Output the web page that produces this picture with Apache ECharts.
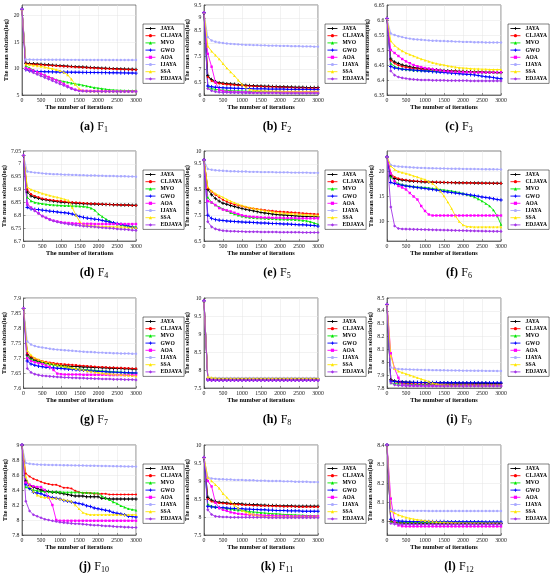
<!DOCTYPE html>
<html><head><meta charset="utf-8">
<script src="https://cdn.jsdelivr.net/npm/echarts@6/dist/echarts.min.js"></script>
<style>html,body{margin:0;padding:0;background:#fff}#c{width:550px;height:579px}</style>
</head><body><div id="c"></div>
<script>
const ITER = [0,100,200,300,400,500,600,700,800,900,1000,1100,1200,1300,1400,1500,1600,1700,1800,1900,2000,2100,2200,2300,2400,2500,2600,2700,2800,2900,3000];
const NAMES = ['JAYA','CLJAYA','MVO','GWO','AOA','IJAYA','SSA','EDJAYA'];

const F1_JAYA = [21.2,11.0,10.95,10.9,10.85,10.8,10.75,10.7,10.65,10.6,10.55,10.5,10.45,10.4,10.36,10.32,10.28,10.24,10.2,10.16,10.12,10.08,10.05,10.02,9.99,9.96,9.93,9.9,9.88,9.86,9.84];
const F1_CLJAYA = [21.2,10.9,10.85,10.8,10.75,10.7,10.65,10.6,10.55,10.5,10.45,10.4,10.36,10.32,10.28,10.24,10.2,10.16,10.12,10.08,10.04,10.0,9.97,9.94,9.91,9.88,9.85,9.82,9.8,9.78,9.76];
const F1_MVO = [21.2,10.5,10.1,9.7,9.3,9.0,8.7,8.4,8.15,7.9,7.7,7.55,7.4,7.25,7.1,7.0,6.85,6.7,6.55,6.4,6.3,6.2,6.1,6.0,5.95,5.9,5.88,5.86,5.85,5.84,5.83];
const F1_GWO = [21.2,9.8,9.6,9.5,9.45,9.42,9.4,9.38,9.36,9.35,9.34,9.33,9.32,9.31,9.3,9.29,9.28,9.27,9.26,9.25,9.24,9.23,9.22,9.21,9.2,9.19,9.18,9.17,9.16,9.15,9.14];
const F1_AOA = [21.2,10.1,9.9,9.6,9.3,9.0,8.7,8.4,8.1,7.8,7.5,7.1,6.7,6.3,6.0,5.85,5.8,5.78,5.76,5.75,5.74,5.73,5.72,5.72,5.71,5.71,5.7,5.7,5.7,5.7,5.7];
const F1_IJAYA = [21.2,11.7,11.7,11.68,11.68,11.67,11.67,11.66,11.66,11.65,11.65,11.65,11.64,11.64,11.64,11.63,11.63,11.63,11.62,11.62,11.62,11.62,11.61,11.61,11.61,11.61,11.6,11.6,11.6,11.6,11.6];
const F1_SSA = [21.2,10.8,10.7,10.6,10.5,10.4,10.25,10.1,9.95,9.8,9.6,9.3,8.8,8.0,7.0,6.2,5.8,5.75,5.74,5.73,5.72,5.72,5.71,5.71,5.7,5.7,5.7,5.7,5.7,5.7,5.7];
const F1_EDJAYA = [21.2,9.8,9.5,9.2,8.9,8.6,8.3,8.0,7.7,7.4,7.1,6.8,6.5,6.2,5.95,5.8,5.72,5.7,5.68,5.67,5.66,5.65,5.65,5.64,5.64,5.63,5.63,5.62,5.62,5.62,5.62];

const F2_JAYA = [9.2,6.75,6.6,6.52,6.48,6.46,6.44,6.43,6.42,6.4,6.39,6.38,6.37,6.36,6.35,6.35,6.34,6.34,6.33,6.33,6.32,6.32,6.31,6.31,6.3,6.3,6.3,6.29,6.29,6.29,6.29];
const F2_CLJAYA = [9.2,6.7,6.55,6.48,6.45,6.43,6.41,6.4,6.39,6.38,6.37,6.36,6.35,6.34,6.33,6.33,6.32,6.32,6.31,6.31,6.3,6.3,6.29,6.29,6.28,6.28,6.28,6.27,6.27,6.27,6.27];
const F2_MVO = [9.2,6.3,6.25,6.22,6.2,6.19,6.18,6.17,6.16,6.16,6.15,6.15,6.14,6.14,6.14,6.13,6.13,6.13,6.13,6.12,6.12,6.12,6.12,6.12,6.12,6.11,6.11,6.11,6.11,6.11,6.11];
const F2_GWO = [9.2,6.35,6.32,6.3,6.29,6.28,6.27,6.27,6.26,6.26,6.25,6.25,6.25,6.24,6.24,6.24,6.24,6.23,6.23,6.23,6.23,6.23,6.22,6.22,6.22,6.22,6.22,6.22,6.21,6.21,6.21];
const F2_AOA = [9.2,7.6,7.1,6.5,6.2,6.15,6.13,6.12,6.12,6.11,6.11,6.11,6.1,6.1,6.1,6.1,6.1,6.1,6.1,6.1,6.1,6.1,6.1,6.1,6.1,6.1,6.1,6.1,6.1,6.1,6.1];
const F2_IJAYA = [9.2,8.25,8.12,8.07,8.04,8.02,8.0,7.99,7.98,7.97,7.96,7.95,7.95,7.94,7.94,7.93,7.93,7.92,7.92,7.92,7.91,7.91,7.91,7.9,7.9,7.9,7.89,7.89,7.89,7.88,7.88];
const F2_SSA = [9.2,7.9,7.7,7.55,7.4,7.22,7.05,6.9,6.75,6.58,6.42,6.3,6.22,6.18,6.17,6.16,6.16,6.15,6.15,6.15,6.15,6.14,6.14,6.14,6.14,6.14,6.14,6.14,6.14,6.14,6.14];
const F2_EDJAYA = [9.2,6.25,6.17,6.13,6.11,6.1,6.1,6.09,6.09,6.09,6.09,6.08,6.08,6.08,6.08,6.08,6.08,6.08,6.08,6.08,6.08,6.07,6.07,6.07,6.07,6.07,6.07,6.07,6.07,6.07,6.07];

const F3_JAYA = [6.605,6.47,6.46,6.455,6.45,6.447,6.444,6.442,6.44,6.438,6.437,6.436,6.435,6.434,6.433,6.432,6.431,6.43,6.43,6.429,6.429,6.428,6.428,6.427,6.427,6.427,6.426,6.426,6.426,6.425,6.425];
const F3_CLJAYA = [6.605,6.465,6.455,6.449,6.445,6.442,6.44,6.438,6.437,6.436,6.435,6.434,6.433,6.432,6.431,6.43,6.43,6.429,6.429,6.428,6.428,6.427,6.427,6.426,6.426,6.426,6.425,6.425,6.425,6.424,6.424];
const F3_MVO = [6.605,6.455,6.445,6.44,6.437,6.435,6.434,6.433,6.432,6.432,6.431,6.431,6.43,6.43,6.429,6.429,6.428,6.428,6.428,6.427,6.427,6.427,6.426,6.426,6.426,6.425,6.425,6.425,6.425,6.424,6.424];
const F3_GWO = [6.605,6.445,6.44,6.438,6.436,6.435,6.434,6.433,6.432,6.431,6.43,6.429,6.428,6.427,6.426,6.425,6.424,6.423,6.422,6.421,6.42,6.419,6.418,6.417,6.415,6.413,6.411,6.41,6.408,6.406,6.404];
const F3_AOA = [6.605,6.5,6.49,6.48,6.47,6.462,6.456,6.45,6.446,6.443,6.44,6.438,6.436,6.434,6.432,6.43,6.429,6.428,6.427,6.427,6.426,6.426,6.426,6.425,6.425,6.425,6.425,6.425,6.425,6.425,6.425];
const F3_IJAYA = [6.605,6.555,6.55,6.546,6.543,6.54,6.538,6.536,6.535,6.534,6.533,6.532,6.531,6.531,6.53,6.53,6.529,6.529,6.528,6.528,6.527,6.527,6.527,6.526,6.526,6.526,6.525,6.525,6.525,6.525,6.525];
const F3_SSA = [6.605,6.53,6.515,6.505,6.497,6.49,6.485,6.48,6.475,6.47,6.466,6.462,6.458,6.455,6.452,6.45,6.447,6.445,6.443,6.441,6.44,6.439,6.438,6.437,6.437,6.436,6.436,6.435,6.435,6.435,6.435];
const F3_EDJAYA = [6.605,6.43,6.416,6.41,6.407,6.405,6.403,6.402,6.401,6.4,6.4,6.4,6.399,6.399,6.399,6.399,6.398,6.398,6.398,6.398,6.398,6.398,6.397,6.397,6.397,6.397,6.397,6.397,6.397,6.397,6.397];

const F4_JAYA = [7.032,6.89,6.875,6.87,6.866,6.862,6.86,6.857,6.855,6.853,6.851,6.85,6.849,6.848,6.847,6.846,6.845,6.845,6.844,6.844,6.843,6.843,6.842,6.842,6.841,6.841,6.84,6.84,6.84,6.839,6.839];
const F4_CLJAYA = [7.032,6.9,6.882,6.875,6.87,6.865,6.862,6.86,6.858,6.856,6.855,6.853,6.851,6.85,6.849,6.848,6.847,6.846,6.845,6.845,6.844,6.843,6.843,6.842,6.841,6.841,6.84,6.84,6.839,6.838,6.838];
const F4_MVO = [7.032,6.87,6.856,6.85,6.847,6.845,6.843,6.841,6.84,6.839,6.838,6.837,6.837,6.836,6.836,6.835,6.834,6.832,6.828,6.82,6.805,6.795,6.785,6.777,6.77,6.765,6.762,6.76,6.758,6.756,6.755];
const F4_GWO = [7.032,6.83,6.825,6.823,6.822,6.82,6.818,6.816,6.815,6.813,6.811,6.81,6.808,6.805,6.8,6.795,6.792,6.789,6.787,6.785,6.783,6.78,6.777,6.774,6.771,6.768,6.765,6.762,6.758,6.754,6.75];
const F4_AOA = [7.032,6.845,6.83,6.82,6.808,6.797,6.79,6.784,6.779,6.776,6.773,6.771,6.77,6.769,6.768,6.768,6.767,6.767,6.767,6.766,6.766,6.766,6.766,6.766,6.766,6.766,6.766,6.766,6.766,6.766,6.766];
const F4_IJAYA = [7.032,6.97,6.968,6.966,6.965,6.963,6.962,6.961,6.96,6.96,6.959,6.958,6.958,6.957,6.957,6.956,6.956,6.955,6.955,6.955,6.954,6.954,6.953,6.953,6.953,6.952,6.952,6.952,6.951,6.951,6.95];
const F4_SSA = [7.032,6.91,6.9,6.895,6.89,6.885,6.881,6.877,6.873,6.87,6.866,6.862,6.858,6.83,6.8,6.775,6.762,6.76,6.759,6.758,6.757,6.757,6.756,6.756,6.755,6.755,6.754,6.754,6.753,6.753,6.752];
const F4_EDJAYA = [7.032,6.84,6.828,6.817,6.807,6.797,6.79,6.783,6.778,6.774,6.771,6.768,6.766,6.764,6.762,6.76,6.758,6.757,6.756,6.755,6.753,6.752,6.751,6.75,6.749,6.747,6.746,6.745,6.744,6.742,6.741];

const F5_JAYA = [9.65,8.5,8.3,8.15,8.05,7.97,7.93,7.88,7.84,7.8,7.76,7.73,7.7,7.67,7.64,7.61,7.59,7.57,7.55,7.53,7.52,7.51,7.5,7.49,7.48,7.47,7.46,7.46,7.45,7.45,7.44];
const F5_CLJAYA = [9.65,8.55,8.42,8.3,8.2,8.1,8.03,7.97,7.92,7.88,7.85,7.81,7.78,7.76,7.74,7.72,7.7,7.68,7.67,7.65,7.64,7.63,7.62,7.61,7.6,7.59,7.58,7.57,7.56,7.55,7.54];
const F5_MVO = [9.65,8.2,8.0,7.9,7.82,7.75,7.68,7.6,7.55,7.5,7.46,7.44,7.42,7.41,7.4,7.39,7.38,7.37,7.37,7.36,7.35,7.35,7.34,7.34,7.33,7.32,7.3,7.28,7.25,7.2,7.15];
const F5_GWO = [9.65,7.5,7.38,7.33,7.31,7.3,7.28,7.27,7.26,7.25,7.24,7.23,7.23,7.22,7.21,7.2,7.2,7.19,7.18,7.18,7.17,7.16,7.16,7.15,7.14,7.13,7.13,7.12,7.11,7.1,7.08];
const F5_AOA = [9.65,8.05,8.0,7.9,7.78,7.72,7.69,7.65,7.6,7.55,7.5,7.47,7.45,7.44,7.43,7.42,7.41,7.41,7.4,7.4,7.4,7.39,7.39,7.39,7.39,7.38,7.38,7.38,7.38,7.38,7.38];
const F5_IJAYA = [9.65,9.3,9.27,9.25,9.24,9.23,9.22,9.21,9.21,9.2,9.2,9.2,9.19,9.19,9.19,9.18,9.18,9.18,9.18,9.17,9.17,9.17,9.17,9.16,9.16,9.16,9.16,9.16,9.15,9.15,9.15];
const F5_SSA = [9.65,8.6,8.45,8.35,8.27,8.2,8.12,8.05,7.99,7.93,7.88,7.84,7.8,7.77,7.74,7.71,7.68,7.66,7.63,7.61,7.59,7.58,7.57,7.56,7.55,7.54,7.53,7.52,7.51,7.5,7.5];
const F5_EDJAYA = [9.65,7.25,7.05,6.97,6.93,6.9,6.89,6.88,6.88,6.87,6.87,6.86,6.86,6.86,6.86,6.85,6.85,6.85,6.85,6.85,6.84,6.84,6.84,6.84,6.84,6.84,6.83,6.83,6.83,6.83,6.83];

const F6_JAYA = [22.8,19.0,18.5,18.3,18.2,18.1,18.0,17.95,17.9,17.85,17.8,17.78,17.76,17.74,17.72,17.7,17.68,17.67,17.66,17.65,17.64,17.63,17.62,17.61,17.6,17.59,17.58,17.57,17.56,17.55,17.54];
const F6_CLJAYA = [22.8,19.5,18.8,18.5,18.3,18.2,18.1,18.0,17.95,17.9,17.85,17.8,17.78,17.76,17.74,17.72,17.7,17.68,17.66,17.65,17.63,17.62,17.61,17.6,17.58,17.57,17.56,17.55,17.54,17.53,17.52];
const F6_MVO = [22.8,18.8,18.0,17.5,17.3,17.1,17.0,16.9,16.8,16.75,16.7,16.6,16.5,16.4,16.3,16.2,16.1,16.0,15.85,15.7,15.5,15.3,15.1,14.8,14.4,14.0,13.5,13.0,12.2,11.0,9.3];
const F6_GWO = [22.8,17.7,17.5,17.3,17.15,17.0,16.9,16.8,16.7,16.6,16.5,16.4,16.3,16.2,16.05,15.9,15.8,15.7,15.6,15.5,15.4,15.3,15.2,15.1,14.95,14.8,14.7,14.6,14.45,14.3,14.2];
const F6_AOA = [22.8,19.5,18.0,17.0,16.7,16.3,15.6,14.9,14.3,13.0,12.0,11.3,11.1,11.1,11.1,11.1,11.1,11.1,11.1,11.1,11.1,11.1,11.1,11.1,11.1,11.1,11.1,11.1,11.1,11.1,11.1];
const F6_IJAYA = [22.8,21.2,21.0,20.9,20.85,20.8,20.75,20.7,20.65,20.62,20.6,20.57,20.55,20.53,20.51,20.5,20.48,20.46,20.45,20.44,20.42,20.41,20.4,20.39,20.38,20.37,20.36,20.35,20.34,20.33,20.32];
const F6_SSA = [22.8,21.0,20.3,19.9,19.7,19.5,19.3,19.0,18.8,18.5,18.3,17.9,17.5,16.8,16.0,15.0,13.8,12.5,11.0,9.9,9.2,8.9,8.85,8.8,8.8,8.8,8.8,8.8,8.8,8.8,8.8];
const F6_EDJAYA = [22.8,12.8,9.0,8.5,8.4,8.38,8.36,8.34,8.32,8.3,8.28,8.26,8.24,8.22,8.2,8.18,8.16,8.14,8.12,8.1,8.08,8.06,8.04,8.02,8.0,7.98,7.96,7.95,7.94,7.93,7.92];

const F7_JAYA = [7.865,7.71,7.7,7.693,7.689,7.685,7.683,7.681,7.679,7.677,7.675,7.674,7.673,7.672,7.672,7.671,7.67,7.67,7.669,7.668,7.668,7.667,7.667,7.666,7.666,7.665,7.665,7.664,7.664,7.663,7.663];
const F7_CLJAYA = [7.865,7.715,7.705,7.698,7.693,7.69,7.687,7.685,7.683,7.681,7.68,7.679,7.678,7.677,7.676,7.675,7.674,7.673,7.672,7.671,7.67,7.67,7.669,7.668,7.668,7.667,7.667,7.666,7.666,7.665,7.665];
const F7_MVO = [7.865,7.705,7.695,7.69,7.687,7.685,7.682,7.679,7.677,7.675,7.672,7.67,7.668,7.666,7.664,7.663,7.662,7.661,7.66,7.659,7.658,7.657,7.656,7.655,7.654,7.654,7.653,7.652,7.651,7.651,7.65];
const F7_GWO = [7.865,7.69,7.68,7.676,7.673,7.671,7.669,7.668,7.667,7.666,7.665,7.664,7.663,7.662,7.661,7.66,7.659,7.658,7.657,7.656,7.655,7.655,7.654,7.653,7.653,7.652,7.652,7.651,7.651,7.65,7.65];
const F7_AOA = [7.865,7.7,7.69,7.686,7.683,7.68,7.675,7.67,7.66,7.648,7.646,7.645,7.645,7.645,7.645,7.645,7.644,7.644,7.644,7.644,7.644,7.644,7.644,7.643,7.643,7.643,7.643,7.643,7.643,7.643,7.643];
const F7_IJAYA = [7.865,7.755,7.745,7.74,7.737,7.735,7.733,7.731,7.729,7.728,7.727,7.726,7.725,7.724,7.723,7.722,7.721,7.72,7.72,7.719,7.718,7.718,7.717,7.717,7.716,7.716,7.715,7.715,7.715,7.714,7.714];
const F7_SSA = [7.865,7.725,7.71,7.7,7.695,7.69,7.686,7.683,7.68,7.677,7.675,7.672,7.67,7.667,7.664,7.662,7.66,7.657,7.655,7.653,7.651,7.649,7.648,7.647,7.646,7.645,7.644,7.643,7.642,7.641,7.64];
const F7_EDJAYA = [7.865,7.665,7.652,7.646,7.643,7.641,7.64,7.639,7.638,7.637,7.636,7.635,7.635,7.634,7.634,7.633,7.633,7.632,7.632,7.631,7.631,7.63,7.63,7.63,7.629,7.629,7.629,7.628,7.628,7.628,7.627];

const F8_JAYA = [9.92,7.76,7.75,7.75,7.75,7.75,7.75,7.75,7.75,7.75,7.75,7.75,7.75,7.75,7.75,7.75,7.75,7.75,7.75,7.75,7.75,7.75,7.75,7.75,7.75,7.75,7.75,7.75,7.75,7.75,7.75];
const F8_CLJAYA = [9.92,7.755,7.745,7.745,7.745,7.745,7.745,7.745,7.745,7.745,7.745,7.745,7.745,7.745,7.745,7.745,7.745,7.745,7.745,7.745,7.745,7.745,7.745,7.745,7.745,7.745,7.745,7.745,7.745,7.745,7.745];
const F8_MVO = [9.92,7.75,7.74,7.74,7.74,7.74,7.74,7.74,7.74,7.74,7.74,7.74,7.74,7.74,7.74,7.74,7.74,7.74,7.74,7.74,7.74,7.74,7.74,7.74,7.74,7.74,7.74,7.74,7.74,7.74,7.74];
const F8_GWO = [9.92,7.73,7.72,7.72,7.72,7.72,7.72,7.72,7.72,7.72,7.72,7.72,7.72,7.72,7.72,7.72,7.72,7.72,7.72,7.72,7.72,7.72,7.72,7.72,7.72,7.72,7.72,7.72,7.72,7.72,7.72];
const F8_AOA = [9.92,7.74,7.72,7.72,7.72,7.72,7.72,7.72,7.72,7.72,7.72,7.72,7.72,7.72,7.72,7.72,7.72,7.72,7.72,7.72,7.72,7.72,7.72,7.72,7.72,7.72,7.72,7.72,7.72,7.72,7.72];
const F8_IJAYA = [9.92,7.79,7.78,7.78,7.78,7.78,7.78,7.78,7.78,7.78,7.78,7.78,7.78,7.78,7.78,7.78,7.78,7.78,7.78,7.78,7.78,7.78,7.78,7.78,7.78,7.78,7.78,7.78,7.78,7.78,7.78];
const F8_SSA = [9.92,7.81,7.79,7.78,7.77,7.77,7.77,7.77,7.77,7.77,7.77,7.77,7.77,7.77,7.77,7.77,7.77,7.77,7.77,7.77,7.77,7.77,7.77,7.77,7.77,7.77,7.77,7.77,7.77,7.77,7.77];
const F8_EDJAYA = [9.92,7.71,7.71,7.71,7.71,7.71,7.71,7.71,7.71,7.71,7.71,7.71,7.71,7.71,7.71,7.71,7.71,7.71,7.71,7.71,7.71,7.71,7.71,7.71,7.71,7.71,7.71,7.71,7.71,7.71,7.71];

const F9_JAYA = [8.45,7.865,7.855,7.85,7.848,7.846,7.845,7.844,7.843,7.842,7.842,7.841,7.841,7.84,7.84,7.84,7.839,7.839,7.839,7.838,7.838,7.838,7.838,7.837,7.837,7.837,7.837,7.836,7.836,7.836,7.836];
const F9_CLJAYA = [8.45,7.86,7.85,7.842,7.838,7.835,7.833,7.832,7.831,7.83,7.83,7.829,7.829,7.828,7.828,7.828,7.827,7.827,7.827,7.827,7.826,7.826,7.826,7.826,7.826,7.825,7.825,7.825,7.825,7.825,7.825];
const F9_MVO = [8.45,7.84,7.835,7.832,7.83,7.829,7.828,7.828,7.827,7.827,7.827,7.826,7.826,7.826,7.826,7.825,7.825,7.825,7.825,7.825,7.825,7.824,7.824,7.824,7.824,7.824,7.824,7.824,7.824,7.824,7.824];
const F9_GWO = [8.45,7.855,7.85,7.848,7.846,7.845,7.844,7.844,7.843,7.843,7.842,7.842,7.842,7.842,7.841,7.841,7.841,7.841,7.841,7.84,7.84,7.84,7.84,7.84,7.84,7.84,7.84,7.84,7.84,7.84,7.84];
const F9_AOA = [8.45,8.07,7.95,7.88,7.825,7.82,7.819,7.819,7.818,7.818,7.818,7.818,7.818,7.818,7.818,7.818,7.818,7.818,7.818,7.818,7.818,7.818,7.818,7.818,7.818,7.818,7.818,7.818,7.818,7.818,7.818];
const F9_IJAYA = [8.45,7.96,7.95,7.948,7.946,7.945,7.944,7.943,7.942,7.941,7.94,7.94,7.939,7.939,7.938,7.938,7.937,7.937,7.936,7.936,7.935,7.935,7.935,7.934,7.934,7.934,7.933,7.933,7.933,7.932,7.932];
const F9_SSA = [8.45,8.05,7.95,7.93,7.92,7.91,7.9,7.89,7.88,7.87,7.86,7.85,7.84,7.832,7.825,7.822,7.821,7.82,7.82,7.82,7.82,7.82,7.82,7.82,7.82,7.82,7.82,7.82,7.82,7.82,7.82];
const F9_EDJAYA = [8.45,7.84,7.825,7.82,7.818,7.817,7.817,7.816,7.816,7.816,7.816,7.815,7.815,7.815,7.815,7.815,7.815,7.815,7.815,7.815,7.815,7.815,7.815,7.815,7.815,7.815,7.815,7.815,7.815,7.815,7.815];

const F10_JAYA = [9.0,8.52,8.46,8.44,8.42,8.4,8.39,8.38,8.37,8.37,8.36,8.35,8.34,8.33,8.32,8.32,8.32,8.31,8.31,8.31,8.31,8.29,8.29,8.28,8.28,8.28,8.28,8.28,8.28,8.28,8.28];
const F10_CLJAYA = [9.0,8.62,8.58,8.55,8.53,8.51,8.49,8.48,8.47,8.47,8.45,8.43,8.43,8.42,8.39,8.37,8.36,8.36,8.36,8.35,8.35,8.35,8.35,8.34,8.34,8.34,8.34,8.34,8.34,8.34,8.34];
const F10_MVO = [9.0,8.44,8.42,8.4,8.39,8.38,8.38,8.38,8.375,8.375,8.375,8.37,8.37,8.37,8.37,8.37,8.365,8.365,8.36,8.36,8.36,8.32,8.29,8.27,8.24,8.22,8.19,8.17,8.15,8.14,8.13];
const F10_GWO = [9.0,8.48,8.42,8.37,8.36,8.35,8.33,8.31,8.3,8.29,8.28,8.26,8.25,8.24,8.23,8.22,8.21,8.19,8.18,8.16,8.15,8.14,8.13,8.12,8.1,8.09,8.08,8.07,8.05,8.045,8.04];
const F10_AOA = [9.0,8.5,8.47,8.45,8.44,8.44,8.4,8.3,8.2,8.0,7.99,7.99,7.99,7.99,7.99,7.99,7.99,7.99,7.99,7.99,7.99,7.99,7.99,7.99,7.99,7.99,7.99,7.99,7.99,7.99,7.99];
const F10_IJAYA = [9.0,8.76,8.75,8.745,8.74,8.738,8.736,8.735,8.734,8.733,8.732,8.731,8.73,8.729,8.728,8.727,8.726,8.725,8.724,8.723,8.722,8.721,8.72,8.719,8.718,8.717,8.716,8.715,8.714,8.713,8.712];
const F10_SSA = [9.0,8.58,8.45,8.38,8.33,8.31,8.3,8.3,8.29,8.29,8.28,8.27,8.26,8.25,8.2,8.15,8.1,8.08,8.07,8.07,8.07,8.07,8.07,8.07,8.07,8.07,8.07,8.07,8.07,8.07,8.07];
const F10_EDJAYA = [9.0,8.25,8.12,8.07,8.05,8.03,8.01,8.0,7.99,7.98,7.97,7.965,7.96,7.955,7.95,7.95,7.945,7.94,7.935,7.93,7.93,7.925,7.92,7.92,7.915,7.91,7.91,7.905,7.905,7.9,7.9];

const F11_JAYA = [9.65,8.55,8.47,8.43,8.41,8.4,8.39,8.38,8.37,8.37,8.36,8.35,8.35,8.34,8.34,8.33,8.33,8.32,8.32,8.32,8.31,8.31,8.31,8.31,8.3,8.3,8.3,8.3,8.3,8.3,8.3];
const F11_CLJAYA = [9.65,8.5,8.43,8.4,8.39,8.38,8.37,8.36,8.35,8.35,8.34,8.33,8.33,8.32,8.32,8.31,8.31,8.31,8.3,8.3,8.3,8.29,8.29,8.29,8.29,8.28,8.28,8.28,8.28,8.28,8.28];
const F11_MVO = [9.65,8.35,8.3,8.28,8.26,8.25,8.23,8.22,8.2,8.19,8.18,8.17,8.15,8.14,8.13,8.12,8.11,8.1,8.09,8.09,8.08,8.07,8.07,8.06,8.06,8.05,8.05,8.04,8.04,8.03,8.03];
const F11_GWO = [9.65,8.3,8.28,8.27,8.26,8.26,8.25,8.24,8.24,8.23,8.23,8.22,8.22,8.21,8.21,8.2,8.2,8.19,8.19,8.18,8.18,8.18,8.17,8.17,8.17,8.17,8.16,8.16,8.16,8.16,8.16];
const F11_AOA = [9.65,9.0,8.85,8.4,8.25,8.2,8.17,8.13,8.11,8.09,8.08,8.07,8.06,8.06,8.05,8.05,8.04,8.04,8.04,8.03,8.03,8.03,8.03,8.02,8.02,8.02,8.02,8.02,8.02,8.02,8.02];
const F11_IJAYA = [9.65,9.1,9.07,9.06,9.05,9.05,9.04,9.04,9.03,9.03,9.03,9.02,9.02,9.02,9.01,9.01,9.01,9.0,9.0,9.0,9.0,8.99,8.99,8.99,8.98,8.98,8.98,8.98,8.97,8.97,8.97];
const F11_SSA = [9.65,9.1,9.0,8.9,8.8,8.65,8.55,8.43,8.33,8.25,8.18,8.14,8.1,8.07,8.04,8.02,8.01,8.0,8.0,8.0,8.0,8.0,8.0,8.0,8.0,8.0,8.0,8.0,8.0,8.0,8.0];
const F11_EDJAYA = [9.65,8.2,8.07,8.02,8.01,8.0,8.0,7.99,7.99,7.99,7.99,7.99,7.99,7.99,7.99,7.99,7.99,7.98,7.98,7.98,7.98,7.98,7.98,7.98,7.98,7.98,7.98,7.98,7.98,7.98,7.98];

const F12_JAYA = [8.4,8.0,7.995,7.993,7.992,7.991,7.991,7.99,7.99,7.99,7.99,7.99,7.99,7.99,7.99,7.99,7.99,7.99,7.99,7.99,7.99,7.99,7.99,7.99,7.99,7.99,7.99,7.99,7.99,7.99,7.99];
const F12_CLJAYA = [8.4,8.002,7.996,7.994,7.993,7.992,7.992,7.991,7.991,7.991,7.99,7.99,7.99,7.99,7.99,7.99,7.99,7.99,7.99,7.99,7.99,7.99,7.99,7.99,7.99,7.99,7.99,7.99,7.99,7.99,7.99];
const F12_MVO = [8.4,8.0,7.998,7.997,7.996,7.996,7.995,7.995,7.995,7.995,7.995,7.995,7.995,7.995,7.995,7.995,7.995,7.995,7.995,7.995,7.995,7.995,7.995,7.995,7.995,7.995,7.995,7.995,7.995,7.995,7.995];
const F12_GWO = [8.4,8.012,8.005,8.003,8.002,8.001,8.0,8.0,8.0,8.0,8.0,8.0,8.0,8.0,8.0,8.0,7.999,7.999,7.999,7.999,7.999,7.999,7.999,7.999,7.999,7.999,7.998,7.998,7.998,7.998,7.998];
const F12_AOA = [8.4,8.12,8.0,7.98,7.976,7.975,7.975,7.975,7.975,7.975,7.975,7.975,7.975,7.975,7.975,7.975,7.975,7.975,7.975,7.975,7.975,7.975,7.975,7.975,7.975,7.975,7.975,7.975,7.975,7.975,7.975];
const F12_IJAYA = [8.4,8.06,8.058,8.057,8.057,8.056,8.056,8.056,8.056,8.056,8.056,8.055,8.055,8.055,8.055,8.055,8.055,8.055,8.055,8.055,8.055,8.055,8.055,8.055,8.055,8.055,8.055,8.055,8.055,8.055,8.055];
const F12_SSA = [8.4,8.055,8.045,8.035,8.028,8.022,8.017,8.013,8.01,8.007,8.005,8.003,8.001,8.0,7.998,7.997,7.996,7.995,7.994,7.994,7.993,7.993,7.993,7.993,7.993,7.993,7.993,7.993,7.993,7.993,7.993];
const F12_EDJAYA = [8.4,7.99,7.987,7.986,7.985,7.985,7.985,7.985,7.985,7.985,7.985,7.985,7.985,7.985,7.985,7.985,7.985,7.985,7.985,7.985,7.985,7.985,7.985,7.985,7.985,7.985,7.985,7.985,7.985,7.985,7.985];

const X_TICKS = [0,500,1000,1500,2000,2500,3000];
const F1_TICKS = [5,10,15,20];
const F2_TICKS = [6,6.5,7,7.5,8,8.5,9,9.5];
const F3_TICKS = [6.35,6.4,6.45,6.5,6.55,6.6,6.65];
const F4_TICKS = [6.7,6.75,6.8,6.85,6.9,6.95,7,7.05];
const F5_TICKS = [6.5,7,7.5,8,8.5,9,9.5,10];
const F6_TICKS = [10,15,20];
const F7_TICKS = [7.6,7.65,7.7,7.75,7.8,7.85,7.9];
const F8_TICKS = [7.5,8,8.5,9,9.5,10];
const F9_TICKS = [7.8,7.9,8,8.1,8.2,8.3,8.4,8.5];
const F10_TICKS = [7.8,8,8.2,8.4,8.6,8.8,9];
const F11_TICKS = [7.5,8,8.5,9,9.5,10];
const F12_TICKS = [8,8.1,8.2,8.3,8.4];
const Y_RANGES = [[5,22],[6,9.5],[6.35,6.65],[6.7,7.05],[6.5,10],[6,24],[7.6,7.9],[7.5,10],[7.8,8.5],[7.8,9],[7.5,10],[7.93,8.4]];
const CAPTION_TAGS = ['a','b','c','d','e','f','g','h','i','j','k','l'];
const CAPTION_SUBS = ['1','2','3','4','5','6','7','8','9','10','11','12'];

const PANEL_DATA = [
  [F1_JAYA,F1_CLJAYA,F1_MVO,F1_GWO,F1_AOA,F1_IJAYA,F1_SSA,F1_EDJAYA],
  [F2_JAYA,F2_CLJAYA,F2_MVO,F2_GWO,F2_AOA,F2_IJAYA,F2_SSA,F2_EDJAYA],
  [F3_JAYA,F3_CLJAYA,F3_MVO,F3_GWO,F3_AOA,F3_IJAYA,F3_SSA,F3_EDJAYA],
  [F4_JAYA,F4_CLJAYA,F4_MVO,F4_GWO,F4_AOA,F4_IJAYA,F4_SSA,F4_EDJAYA],
  [F5_JAYA,F5_CLJAYA,F5_MVO,F5_GWO,F5_AOA,F5_IJAYA,F5_SSA,F5_EDJAYA],
  [F6_JAYA,F6_CLJAYA,F6_MVO,F6_GWO,F6_AOA,F6_IJAYA,F6_SSA,F6_EDJAYA],
  [F7_JAYA,F7_CLJAYA,F7_MVO,F7_GWO,F7_AOA,F7_IJAYA,F7_SSA,F7_EDJAYA],
  [F8_JAYA,F8_CLJAYA,F8_MVO,F8_GWO,F8_AOA,F8_IJAYA,F8_SSA,F8_EDJAYA],
  [F9_JAYA,F9_CLJAYA,F9_MVO,F9_GWO,F9_AOA,F9_IJAYA,F9_SSA,F9_EDJAYA],
  [F10_JAYA,F10_CLJAYA,F10_MVO,F10_GWO,F10_AOA,F10_IJAYA,F10_SSA,F10_EDJAYA],
  [F11_JAYA,F11_CLJAYA,F11_MVO,F11_GWO,F11_AOA,F11_IJAYA,F11_SSA,F11_EDJAYA],
  [F12_JAYA,F12_CLJAYA,F12_MVO,F12_GWO,F12_AOA,F12_IJAYA,F12_SSA,F12_EDJAYA]
];
const PANEL_TICKS = [F1_TICKS,F2_TICKS,F3_TICKS,F4_TICKS,F5_TICKS,F6_TICKS,F7_TICKS,F8_TICKS,F9_TICKS,F10_TICKS,F11_TICKS,F12_TICKS];

// ---- styling / layout ----
const SERIF = "'Liberation Serif','DejaVu Serif',serif";
const COLORS = ['#000000','#ff0000','#00e600','#0000ff','#ff00ff','#a9a9ff','#ffe600','#a335e8'];
const PLUS = 'path://M3,0H5V3H8V5H5V8H3V5H0V3H3Z';
const SYMBOLS = [PLUS,'circle','triangle',PLUS,'rect','circle','triangle','diamond'];
const SYM_SIZE = [3.4,2.2,2.6,3.6,2.4,2.4,2.6,3.2];
const COL_LEFT = [22,204,387];
const PLOT_W = 114;
const ROW_TOP = [5,151,298,445];
const PLOT_H = 90;
const LEG_LEFT = [143,325,508];
const CAP_X = [94,277,459];

const plain = v => String(v);
const chart = echarts.init(document.getElementById('c'), null, {renderer:'canvas'});
const grid = [], xAxis = [], yAxis = [], series = [], legend = [], graphic = [];
PANEL_DATA.forEach((arrs, i) => {
  const r = Math.floor(i / 3), c = i % 3;
  grid.push({left: COL_LEFT[c], top: ROW_TOP[r], width: PLOT_W, height: PLOT_H,
    show: true, borderColor: '#333', borderWidth: 0.6, backgroundColor: '#fff'});
  xAxis.push({type:'value', gridIndex:i, min:0, max:3000,
    name:'The number of iterations', nameLocation:'middle', nameGap:9,
    nameTextStyle:{fontFamily:SERIF, fontWeight:'bold', fontSize:6.3, color:'#000'},
    axisLine:{onZero:false, lineStyle:{color:'#333', width:0.6}},
    axisTick:{inside:true, length:2, lineStyle:{color:'#333', width:0.5}, customValues:X_TICKS},
    axisLabel:{fontFamily:SERIF, fontSize:5.8, color:'#222', margin:2.5, customValues:X_TICKS, formatter:plain},
    splitLine:{show:true, lineStyle:{color:'#e4e4e4', width:0.5}}});
  yAxis.push({type:'value', gridIndex:i, min:Y_RANGES[i][0], max:Y_RANGES[i][1],
    name:'The mean solution(log)', nameLocation:'middle', nameGap:13,
    nameTextStyle:{fontFamily:SERIF, fontWeight:'bold', fontSize:6.3, color:'#000'},
    axisLine:{onZero:false, lineStyle:{color:'#333', width:0.6}},
    axisTick:{inside:true, length:2, lineStyle:{color:'#333', width:0.5}, customValues:PANEL_TICKS[i]},
    axisLabel:{fontFamily:SERIF, fontSize:5.8, color:'#222', margin:2.5, customValues:PANEL_TICKS[i], formatter:plain},
    splitLine:{show:true, lineStyle:{color:'#e4e4e4', width:0.5}}});
  arrs.forEach((vals, s) => {
    series.push({type:'line', name:NAMES[s], xAxisIndex:i, yAxisIndex:i,
      data: ITER.map((x, k) => [x, vals[k]]),
      symbol: SYMBOLS[s], symbolSize: SYM_SIZE[s], showSymbol:true,
      lineStyle:{width:0.9, color:COLORS[s]}, itemStyle:{color:COLORS[s]},
      animation:false, silent:true});
  });
  legend.push({data:NAMES, orient:'vertical', left:LEG_LEFT[c], top:ROW_TOP[r] + 19,
    itemWidth:10, itemHeight:4, itemGap:1.2, padding:[1.5,2,1.5,2],
    borderColor:'#000', borderWidth:0.5, backgroundColor:'#fff', selectedMode:false,
    lineStyle:{width:0.9},
    textStyle:{fontFamily:SERIF, fontWeight:'bold', fontSize:5.6, color:'#000'}});
  graphic.push({type:'text', x: CAP_X[c], y: ROW_TOP[r] + 122, silent:true,
    style:{text:'{b|(' + CAPTION_TAGS[i] + ')} {n|F}{s|' + CAPTION_SUBS[i] + '}',
      align:'center', verticalAlign:'middle', textAlign:'center', textVerticalAlign:'middle',
      rich:{b:{fontFamily:SERIF, fontWeight:'bold', fontSize:12, fill:'#000', color:'#000'},
            n:{fontFamily:SERIF, fontSize:12, fill:'#000', color:'#000'},
            s:{fontFamily:SERIF, fontSize:8, fill:'#000', color:'#000', padding:[6,0,0,0]}}}});
});
chart.setOption({backgroundColor:'#fff', animation:false, grid, xAxis, yAxis, series, legend, graphic});
</script>
</body></html>
